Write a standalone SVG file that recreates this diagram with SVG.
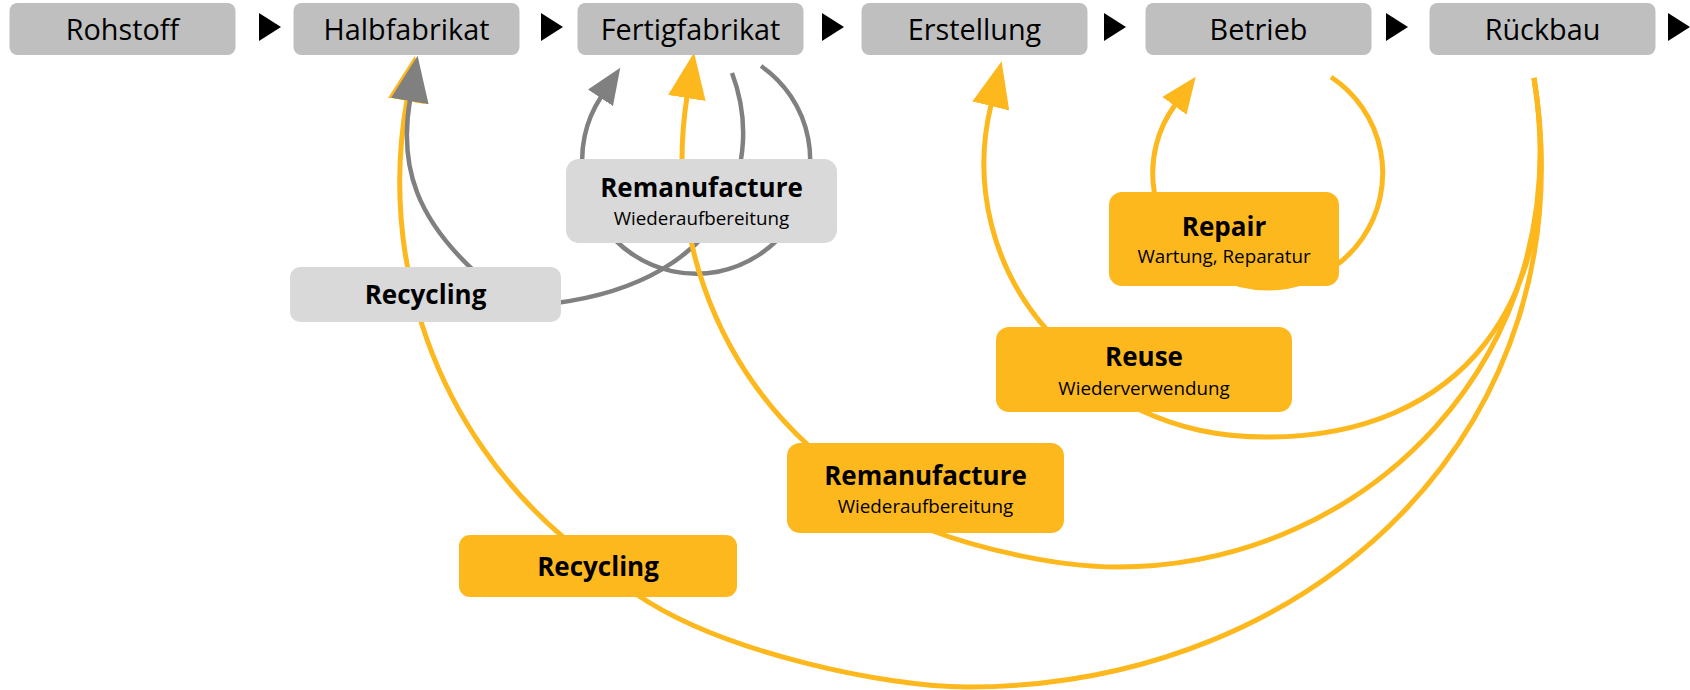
<svg xmlns="http://www.w3.org/2000/svg" width="1690" height="690" viewBox="0 0 1690 690">
<defs>
<style>
.top rect{fill:#bfbfbf}
.top text{font-family:"Open Sans","Noto Sans",sans-serif;font-size:28.8px;text-anchor:middle;fill:#000}
.gn rect{fill:#d9d9d9}
.on rect{fill:#fdb81e}
.t{font-family:"Open Sans","Noto Sans",sans-serif;font-weight:bold;font-size:26px;text-anchor:middle;fill:#000}
.s{font-family:"Open Sans","Noto Sans",sans-serif;font-size:18.8px;text-anchor:middle;fill:#000}
.oc{fill:none;stroke:#fdb81e;stroke-width:5}
.gc{fill:none;stroke:#808080;stroke-width:4.5}
.tri{fill:#000}
</style>
<marker id="oL" markerUnits="userSpaceOnUse" markerWidth="47" markerHeight="38" viewBox="0 0 47 38" refX="1" refY="19" orient="auto"><path d="M0,0 L46,19 L0,38 Z" fill="#fdb81e"/></marker>
<marker id="gL" markerUnits="userSpaceOnUse" markerWidth="47" markerHeight="38" viewBox="0 0 47 38" refX="1" refY="19" orient="auto"><path d="M0,0 L46,19 L0,38 Z" fill="#808080"/></marker>
<marker id="oS" markerUnits="userSpaceOnUse" markerWidth="37" markerHeight="30" viewBox="0 0 37 30" refX="1" refY="15" orient="auto"><path d="M0,0 L36,15 L0,30 Z" fill="#fdb81e"/></marker>
<marker id="gS" markerUnits="userSpaceOnUse" markerWidth="37" markerHeight="30" viewBox="0 0 37 30" refX="1" refY="15" orient="auto"><path d="M0,0 L36,15 L0,30 Z" fill="#808080"/></marker>
</defs>
<rect width="1690" height="690" fill="#fff"/>
<g id="connectors">
<path class="oc" d="M 563 537 A 467 467 0 0 1 407 100" marker-end="url(#oL)"/>
<path class="gc" d="M 761 66 A 114 114 0 1 1 601 97" marker-end="url(#gS)"/>
<path class="gc" d="M 732 73 C 765 160, 730 280, 556 303"/>
<path class="gc" d="M 473 270 C 420 220, 398 170, 410 100" marker-end="url(#gL)"/>
<path class="oc" d="M 809 446 A 390 390 0 0 1 687 97" marker-end="url(#oL)"/>
<path class="oc" d="M 1047 330 A 250 250 0 0 1 991 105" marker-end="url(#oL)"/>
<path class="oc" d="M 1331 77 A 115 115 0 1 1 1175 105" marker-end="url(#oS)"/>
<path class="oc" d="M 1534 78 C 1590 424.5, 1317 687, 967 687 C 887 687, 722 653, 636 594"/>
<path class="oc" d="M 1534 78 C 1578.8 355, 1367 567, 1117 567 C 1057 567, 980 549, 930 530"/>
<path class="oc" d="M 1534 78 C 1570.8 305.7, 1457 437, 1267 437 C 1217 437, 1179 428, 1140 410"/>
<polygon class="tri" points="259,13 281,27 259,41"/>
<polygon class="tri" points="541,13 563,27 541,41"/>
<polygon class="tri" points="822,13 844,27 822,41"/>
<polygon class="tri" points="1104,13 1126,27 1104,41"/>
<polygon class="tri" points="1386,13 1408,27 1386,41"/>
<polygon class="tri" points="1668,13 1690,27 1668,41"/>
</g>
<g id="rohstoff" class="top"><rect x="9.5" y="3" width="226" height="52" rx="8"/><text x="122.5" y="39.5">Rohstoff</text></g>
<g id="halbfabrikat" class="top"><rect x="293.5" y="3" width="226" height="52" rx="8"/><text x="406.5" y="39.5">Halbfabrikat</text></g>
<g id="fertigfabrikat" class="top"><rect x="577.5" y="3" width="226" height="52" rx="8"/><text x="690.5" y="39.5">Fertigfabrikat</text></g>
<g id="erstellung" class="top"><rect x="861.5" y="3" width="226" height="52" rx="8"/><text x="974.5" y="39.5">Erstellung</text></g>
<g id="betrieb" class="top"><rect x="1145.5" y="3" width="226" height="52" rx="8"/><text x="1258.5" y="39.5">Betrieb</text></g>
<g id="rueckbau" class="top"><rect x="1429.5" y="3" width="226" height="52" rx="8"/><text x="1542.5" y="39.5">Rückbau</text></g>
<g id="remanufacture-grey" class="gn"><rect x="566" y="159" width="271" height="84" rx="13"/><text class="t" x="701.5" y="197">Remanufacture</text><text class="s" x="701.5" y="225">Wiederaufbereitung</text></g>
<g id="recycling-grey" class="gn"><rect x="290" y="267" width="271" height="55" rx="10"/><text class="t" x="425.5" y="304">Recycling</text></g>
<g id="repair" class="on"><rect x="1109" y="192" width="230" height="94" rx="13"/><text class="t" x="1224" y="236">Repair</text><text class="s" x="1224" y="263">Wartung, Reparatur</text></g>
<g id="reuse" class="on"><rect x="996" y="327" width="296" height="85" rx="13"/><text class="t" x="1144" y="366">Reuse</text><text class="s" x="1144" y="395">Wiederverwendung</text></g>
<g id="remanufacture-orange" class="on"><rect x="787" y="443" width="277" height="90" rx="13"/><text class="t" x="925.5" y="485">Remanufacture</text><text class="s" x="925.5" y="513">Wiederaufbereitung</text></g>
<g id="recycling-orange" class="on"><rect x="459" y="535" width="278" height="62" rx="11"/><text class="t" x="598" y="576">Recycling</text></g>
</svg>
